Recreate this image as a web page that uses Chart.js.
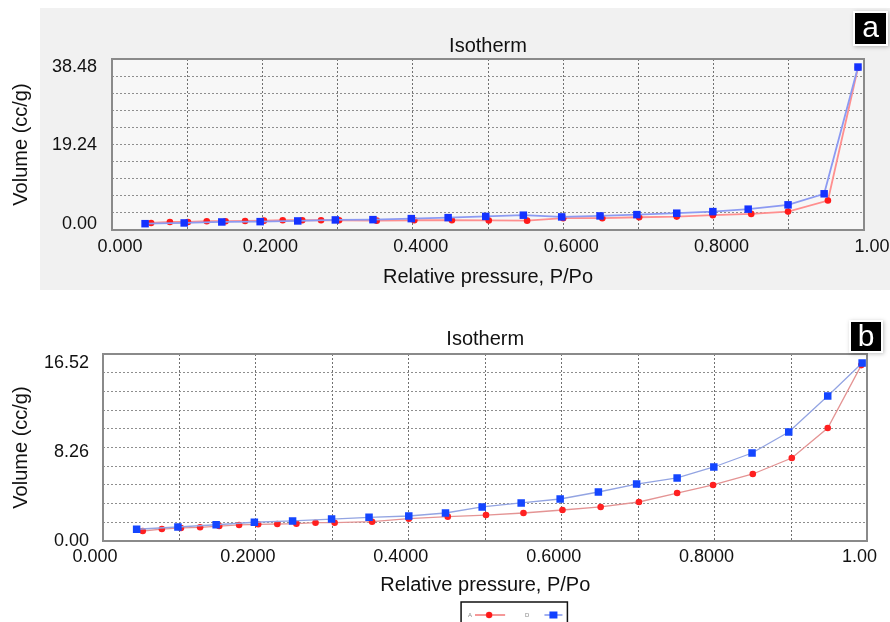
<!DOCTYPE html>
<html>
<head>
<meta charset="utf-8">
<script src="https://cdn.jsdelivr.net/npm/chart.js@4.4.1/dist/chart.umd.min.js"></script>
<style>
  html, body { margin: 0; padding: 0; background: #fff; overflow: hidden; }
  body { width: 890px; height: 622px; position: relative; font-family: 'Liberation Sans', Arial, sans-serif; }
  #panelA { position: absolute; left: 40px; top: 8px; width: 850px; height: 282px; background: #f1f1f1; }
  .wrap { position: absolute; left: 0; width: 890px; }
  #wrapA { top: 0; height: 300px; }
  #wrapB { top: 300px; height: 340px; }
  .badge { position: absolute; background: #000; color: #fff; font-size: 30px; text-align: center;
           box-shadow: 0 0 0 2px #fff, 1px 1px 4px 2px rgba(0,0,0,0.25); }
</style>
</head>
<body>
<div id="panelA"></div>
<div class="wrap" id="wrapA"><canvas id="chartA"></canvas></div>
<div class="wrap" id="wrapB"><canvas id="chartB"></canvas></div>
<div class="badge" style="left:855px;top:13px;width:31px;height:31px;line-height:28px;">a</div>
<div class="badge" style="left:851px;top:322px;width:30px;height:29px;line-height:28px;">b</div>
<script>
const FONT = "'Liberation Sans', Arial, Helvetica, sans-serif";

// shared axis labels
const xTickLabels = ['0.000', '0.2000', '0.4000', '0.6000', '0.8000', '1.00'];
const aYTicks = [0, 19.24, 38.48];
const bYTicks = [0, 8.26, 16.52];

// panel a : A = adsorption (red), D = desorption (blue)
const aAdsP = [0.052, 0.077, 0.101, 0.126, 0.151, 0.177, 0.202, 0.227, 0.253, 0.278, 0.302, 0.352, 0.402,
               0.452, 0.501, 0.552, 0.600, 0.652, 0.701, 0.751, 0.799, 0.850, 0.899, 0.952, 0.992];
const aAdsV = [0.25, 0.49, 0.49, 0.67, 0.67, 0.74, 0.81, 0.91, 0.91, 0.91, 0.91, 0.81, 0.91,
               0.91, 0.86, 0.81, 1.41, 1.41, 1.65, 1.80, 2.15, 2.47, 3.03, 5.75, 38.30];
const aDesP = [0.044, 0.096, 0.146, 0.197, 0.247, 0.297, 0.347, 0.398, 0.447, 0.497,
               0.547, 0.598, 0.649, 0.698, 0.751, 0.799, 0.846, 0.899, 0.947, 0.992];
const aDesV = [0.07, 0.25, 0.49, 0.57, 0.74, 0.99, 1.06, 1.31, 1.55, 1.85,
               2.15, 1.73, 1.97, 2.29, 2.64, 3.03, 3.63, 4.69, 7.40, 38.48];

// panel b
const bAdsP = [0.052, 0.077, 0.102, 0.127, 0.152, 0.178, 0.203, 0.228, 0.253, 0.278, 0.303, 0.352, 0.400,
               0.451, 0.501, 0.550, 0.601, 0.651, 0.701, 0.751, 0.798, 0.850, 0.901, 0.948, 0.992];
const bAdsV = [0.93, 1.11, 1.21, 1.27, 1.39, 1.49, 1.55, 1.58, 1.61, 1.70, 1.70, 1.79, 2.07,
               2.26, 2.41, 2.60, 2.88, 3.16, 3.62, 4.45, 5.20, 6.22, 7.70, 10.49, 16.33];
const bDesP = [0.044, 0.098, 0.148, 0.198, 0.248, 0.299, 0.348, 0.400, 0.448, 0.496,
               0.547, 0.598, 0.648, 0.698, 0.751, 0.799, 0.849, 0.897, 0.948, 0.993];
const bDesV = [1.09, 1.30, 1.51, 1.74, 1.86, 2.04, 2.20, 2.32, 2.60, 3.16,
               3.53, 3.90, 4.55, 5.29, 5.85, 6.87, 8.17, 10.12, 13.46, 16.52];

const toPoints = (xs, ys) => xs.map((x, i) => ({ x: x, y: ys[i] }));

// little line+marker icons for the legend
function legendIcon(kind) {
  const c = document.createElement('canvas');
  c.width = 42; c.height = 10;
  const g = c.getContext('2d');
  g.lineWidth = 1.3;
  if (kind === 'A') {
    g.strokeStyle = '#f06060';
    g.beginPath(); g.moveTo(0, 5); g.lineTo(30, 5); g.stroke();
    g.fillStyle = '#ff1818';
    g.beginPath(); g.arc(14, 5, 3.2, 0, Math.PI * 2); g.fill();
  } else {
    g.strokeStyle = '#6f86e8';
    g.beginPath(); g.moveTo(12, 5); g.lineTo(30, 5); g.stroke();
    g.fillStyle = '#1040ff';
    g.fillRect(17, 1.5, 8, 7);
  }
  return c;
}

const plotBg = {
  id: 'plotBg',
  beforeDraw(chart, args, opts) {
    if (!opts.color) return;
    const a = chart.chartArea;
    chart.ctx.save();
    chart.ctx.fillStyle = opts.color;
    chart.ctx.fillRect(a.left, a.top, a.right - a.left, a.bottom - a.top);
    chart.ctx.restore();
  }
};

const legendFrame = {
  id: 'legendFrame',
  afterLayout(chart, args, opts) {
    if (!opts.shift || !chart.legend) return;
    chart.legend.left += opts.shift;
    chart.legend.right += opts.shift;
  },
  afterDraw(chart, args, opts) {
    if (!opts.shift || !chart.legend || !chart.legend.legendHitBoxes) return;
    const boxes = chart.legend.legendHitBoxes;
    const left = Math.min(...boxes.map(b => b.left)) - 7;
    const right = Math.max(...boxes.map(b => b.left + b.width)) - 7;
    const top = boxes[0].top - 10;
    const ctx = chart.ctx;
    ctx.save();
    ctx.strokeStyle = '#111';
    ctx.lineWidth = 1.5;
    ctx.strokeRect(left, top, right - left, 40);
    ctx.restore();
  }
};

function makeChart(id, cfg) {
  const tickFont = { family: FONT, size: 18 };
  const titleFont = { family: FONT, size: 20 };
  const frame = '#8a8a8a';

  return new Chart(document.getElementById(id), {
    type: 'scatter',
    data: {
      datasets: [
        {
          label: 'D',
          data: toPoints(cfg.desP, cfg.desV),
          showLine: true,
          borderColor: cfg.blueLine,
          borderWidth: cfg.lineWidth,
          pointStyle: 'rect',
          pointRadius: 5.3,
          pointBorderWidth: 0,
          pointBackgroundColor: cfg.blueMark,
          tension: 0
        },
        {
          label: 'A',
          data: toPoints(cfg.adsP, cfg.adsV),
          showLine: true,
          borderColor: cfg.redLine,
          borderWidth: cfg.lineWidth,
          pointStyle: 'circle',
          pointRadius: 3.3,
          pointBorderWidth: 0,
          pointBackgroundColor: cfg.redMark,
          tension: 0
        }
      ]
    },
    options: {
      responsive: true,
      maintainAspectRatio: false,
      animation: false,
      layout: { padding: cfg.padding },
      scales: {
        x: {
          type: 'linear',
          position: 'bottom',
          min: 0,
          max: 1,
          afterFit: s => { s.height = cfg.xAxisHeight; },
          ticks: {
            stepSize: 0.1,
            autoSkip: false,
            maxRotation: 0,
            padding: cfg.xTickPad,
            labelOffset: cfg.labelOffset,
            font: tickFont,
            color: '#111',
            callback: (v, i) => (i % 2 === 0 ? xTickLabels[i / 2] : '')
          },
          grid: { color: '#707070', lineWidth: 1, drawTicks: false },
          border: { display: true, color: frame, width: 2, dash: [2, 2] },
          title: {
            display: true,
            text: 'Relative pressure, P/Po',
            font: titleFont,
            color: '#111',
            padding: { top: 0, bottom: cfg.xTitlePad }
          }
        },
        xt: {
          type: 'linear',
          position: 'top',
          min: 0,
          max: 1,
          afterFit: s => { s.height = 0; },
          ticks: { display: false },
          grid: { display: false, drawTicks: false },
          border: { display: true, color: frame, width: 2 }
        },
        y: {
          type: 'linear',
          position: 'left',
          min: cfg.yMin,
          max: cfg.yMax,
          afterBuildTicks: s => { s.ticks = cfg.yTicks.map(v => ({ value: v })); },
          afterFit: s => { s.width = cfg.yAxisWidth; },
          ticks: {
            padding: cfg.yTickPad,
            font: tickFont,
            color: '#111',
            callback: v => Number(v).toFixed(2)
          },
          grid: { display: false, drawTicks: false },
          border: { display: true, color: frame, width: 2 },
          title: {
            display: true,
            text: 'Volume (cc/g)',
            font: titleFont,
            color: '#111',
            padding: { top: 9, bottom: 0 }
          }
        },
        yg: {
          type: 'linear',
          position: 'right',
          min: 0,
          max: 10,
          afterFit: s => { s.width = 0; },
          ticks: { display: false, stepSize: 1 },
          grid: { color: '#8e8e8e', lineWidth: 1, drawTicks: false },
          border: { display: true, color: frame, width: 2, dash: [2, 2] }
        }
      },
      plugins: {
        title: {
          display: true,
          text: 'Isotherm',
          fullSize: false,
          font: { family: FONT, size: 20, weight: 'normal' },
          color: '#111',
          padding: cfg.titlePad
        },
        legend: cfg.showLegend ? {
          display: true,
          position: 'bottom',
          fullSize: false,
          rtl: true,
          labels: {
            font: { family: FONT, size: 6 },
            color: '#888',
            padding: 8,
            usePointStyle: true,
            pointStyleWidth: 42,
            generateLabels: chart => Chart.defaults.plugins.legend.labels.generateLabels(chart)
              .map(item => Object.assign(item, { pointStyle: legendIcon(item.text) }))
          }
        } : { display: false },
        tooltip: { enabled: false },
        plotBg: { color: cfg.plotBg },
        legendFrame: { shift: cfg.legendShift }
      }
    },
    plugins: [plotBg, legendFrame]
  });
}

makeChart('chartA', {
  adsP: aAdsP, adsV: aAdsV, desP: aDesP, desV: aDesV,
  yTicks: aYTicks, yMin: -1.48, yMax: 40.45,
  padding: { left: 0, right: 26, top: 0, bottom: 10 },
  titlePad: { top: 34, bottom: 1 },
  xAxisHeight: 60, xTickPad: 6, xTitlePad: 1, labelOffset: 8,
  yAxisWidth: 112, yTickPad: 15,
  blueLine: '#8c9af2', redLine: '#ff8f8f', blueMark: '#1432ff', redMark: '#ff1a1a',
  lineWidth: 1.8, plotBg: '#f7f7f7', showLegend: false, legendShift: 0
});

makeChart('chartB', {
  adsP: bAdsP, adsV: bAdsV, desP: bDesP, desV: bDesV,
  yTicks: bYTicks, yMin: 0, yMax: 17.36,
  padding: { left: 0, right: 21, top: 0, bottom: 12 },
  titlePad: { top: 27, bottom: 3 },
  xAxisHeight: 63, xTickPad: 5, xTitlePad: 7, labelOffset: -8,
  yAxisWidth: 103, yTickPad: 14,
  blueLine: '#93a4e2', redLine: '#e49494', blueMark: '#1446ff', redMark: '#ff2020',
  lineWidth: 1.3, plotBg: null, showLegend: true, legendShift: 36
});
</script>
</body>
</html>
